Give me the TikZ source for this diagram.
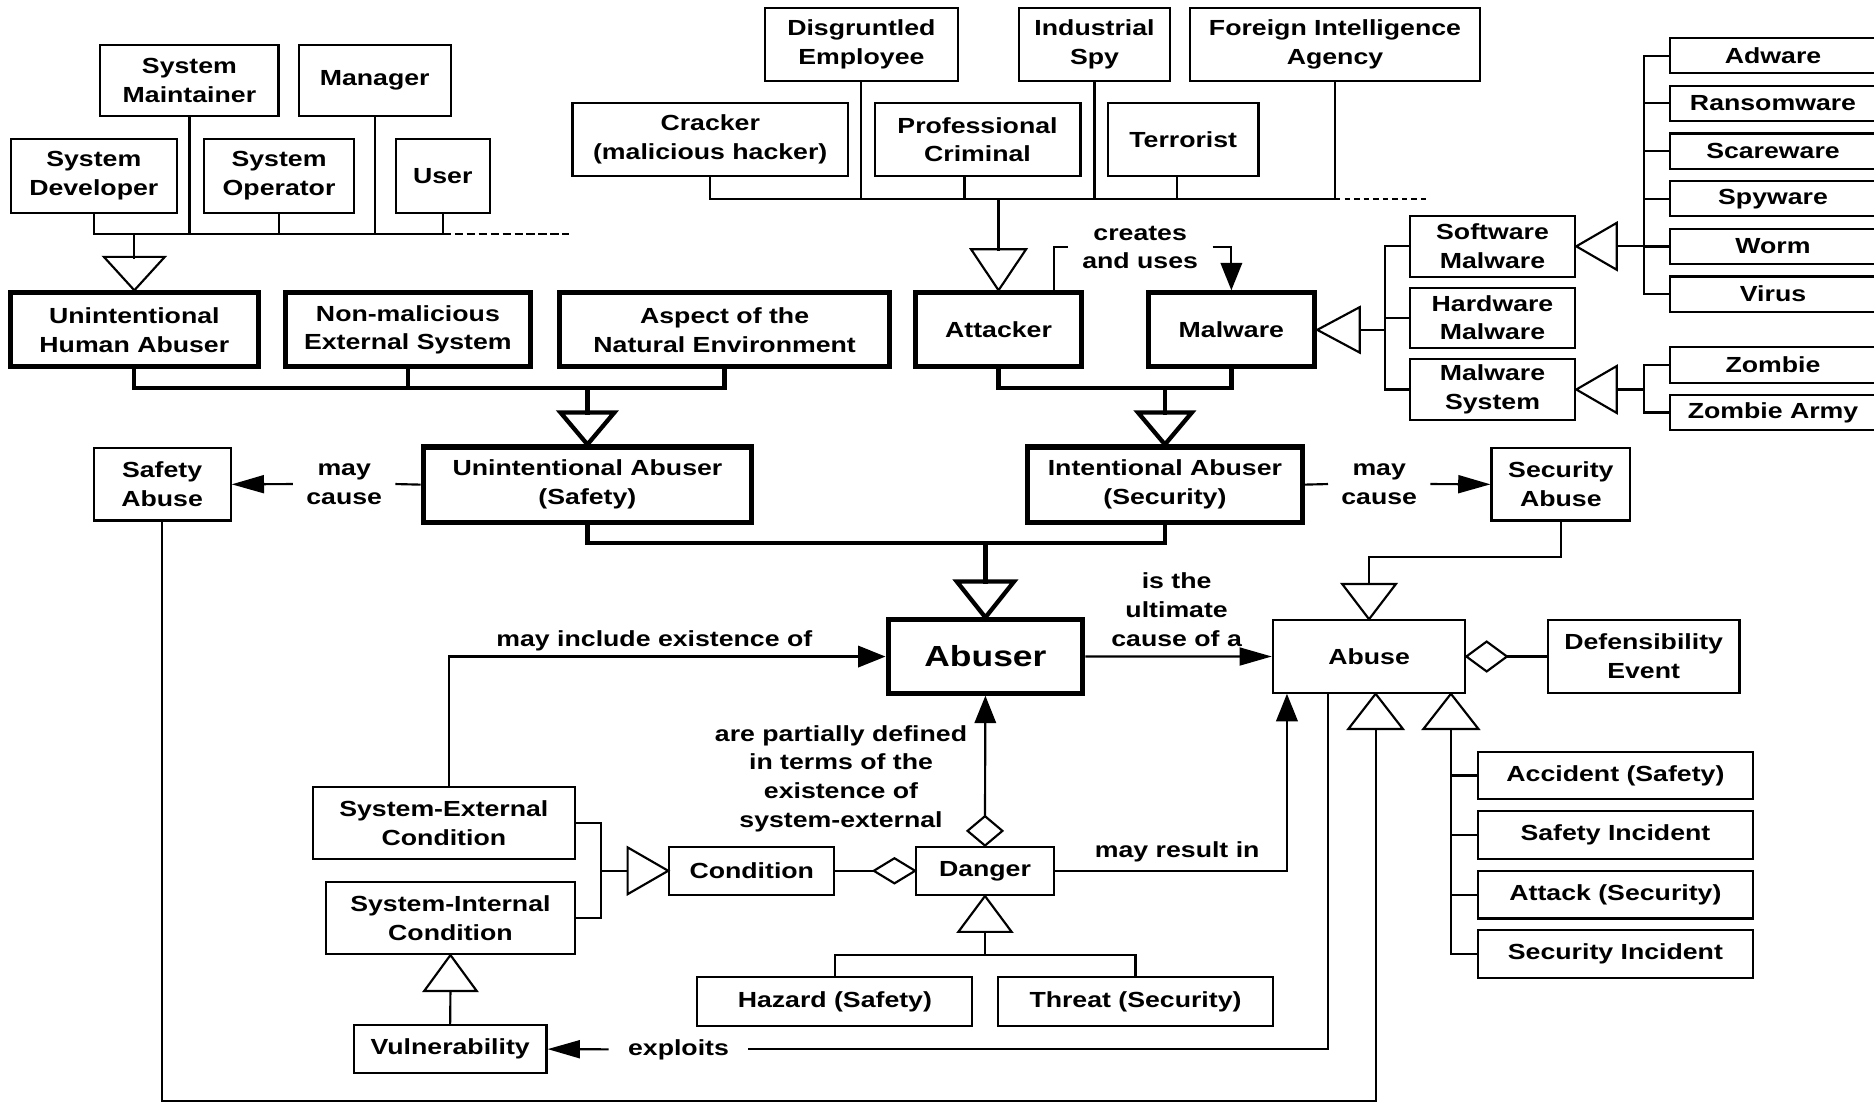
\documentclass[tikz,border=0pt]{standalone}
\usepackage{fontspec}
\newfontfamily\lblfont{Liberation Sans}[FakeStretch=1.22]
\usetikzlibrary{arrows.meta,calc}

\begin{document}
\begin{tikzpicture}[x=1pt,y=-1pt,
  txt/.style={font=\lblfont\bfseries\fontsize{18.3}{24}\selectfont, align=center, inner sep=0pt},
  box/.style 2 args={txt, draw, line width=1.8pt, minimum width=#1, minimum height=#2},
  thk/.style 2 args={box={#1}{#2}, line width=4.2pt},
  ln/.style={line width=1.8pt},
  lnt/.style={line width=3.6pt},
  varr/.style={-{Triangle[length=23pt,width=18pt]}},
  harr/.style={-{Triangle[length=27pt,width=15pt]}},
  dashline/.style={ln, dash pattern=on 7pt off 3pt},
  dotline/.style={ln, dash pattern=on 4.5pt off 3.5pt}
]
\useasboundingbox (0,0) rectangle (1568,923);

% ---------- human abusers (unintentional) ----------
\node[box={149}{59}] (sm)  at (158.5,67.5) {System\\Maintainer};
\node[box={127}{59}] (mgr) at (313.5,67.5) {Manager};
\node[box={139}{62}] (sd)  at (78.5,147) {System\\Developer};
\node[box={125}{62}] (so)  at (233.5,147) {System\\Operator};
\node[box={79}{62}]  (usr) at (370.5,147) {User};

% ---------- human attackers ----------
\node[box={161.5}{60.5}] (de)  at (720.75,37.25) {Disgruntled\\Employee};
\node[box={126.4}{60.5}] (isp) at (915.8,37.25) {Industrial\\Spy};
\node[box={242}{60.5}]   (fia) at (1117,37.25) {Foreign Intelligence\\Agency};
\node[box={230.5}{60.5}] (cr)  at (594.25,116.75) {Cracker\\(malicious hacker)};
\node[box={172.2}{60.5}] (pc)  at (817.9,116.75) {Professional\\Criminal};
\node[box={126}{60.5}]   (ter) at (990,116.75) {Terrorist};

% ---------- malware kinds ----------
\node[box={173}{29.5}] (adw) at (1483.5,46.6)  {Adware};
\node[box={173}{29.5}] (ran) at (1483.5,86.5)  {Ransomware};
\node[box={173}{29.5}] (sca) at (1483.5,126.4) {Scareware};
\node[box={173}{29.5}] (spy) at (1483.5,166.3) {Spyware};
\node[box={173}{29.5}] (wrm) at (1483.5,206.2) {Worm};
\node[box={173}{29.5}] (vir) at (1483.5,246.1) {Virus};
\node[box={173}{29.5}] (zom) at (1483.5,305.4) {Zombie};
\node[box={173}{29.5}] (zar) at (1483.5,345.2) {Zombie Army};
\node[box={138.4}{50.8}] (swm)  at (1248.8,206.1) {Software\\Malware};
\node[box={138.4}{50.3}] (hwm)  at (1248.8,265.9) {Hardware\\Malware};
\node[box={138.4}{51}]   (msys) at (1248.8,325.9) {Malware\\System};

% ---------- abuser kinds ----------
\node[thk={208}{62}]   (uha)  at (112.4,276) {Unintentional\\Human Abuser};
\node[thk={205}{62}]   (nmes) at (341.3,276) {Non-malicious\\External System};
\node[thk={276.6}{62}] (ane)  at (606.3,276) {Aspect of the\\Natural Environment};
\node[thk={139}{62}]   (att)  at (835.5,276) {Attacker};
\node[thk={139.5}{62}] (mal)  at (1030.3,276) {Malware};
\node[thk={275}{63}]   (uas)  at (491.5,405.5) {Unintentional Abuser\\(Safety)};
\node[thk={229.4}{63}] (ias)  at (974.7,405.5) {Intentional Abuser\\(Security)};
\node[thk={163}{61.3}, font=\lblfont\bfseries\fontsize{24.3}{28}\selectfont] (abuser) at (824.5,549.35) {Abuser};

% ---------- abuses ----------
\node[box={114.7}{60.5}] (sa)    at (135.65,405.25) {Safety\\Abuse};
\node[box={116}{60.5}]   (secab) at (1306,405.25) {Security\\Abuse};
\node[box={161}{60.6}]   (abuse) at (1145.5,549.3) {Abuse};
\node[box={160.5}{60.6}] (defe)  at (1375.25,549.3) {Defensibility\\Event};
\node[box={230.7}{39.8}] (acc)    at (1351.65,648.9)  {Accident (Safety)};
\node[box={230.7}{39.8}] (si)     at (1351.65,698.8)  {Safety Incident};
\node[box={230.7}{39.8}] (atk)    at (1351.65,748.55) {Attack (Security)};
\node[box={230.7}{39.8}] (secinc) at (1351.65,798.25) {Security Incident};

% ---------- conditions and dangers ----------
\node[box={218.8}{60.2}] (sec)    at (371.4,688.9) {System-External\\Condition};
\node[box={207.8}{60.2}] (sic)    at (376.9,768.1) {System-Internal\\Condition};
\node[box={138}{40.4}]   (cond)   at (629,728.6) {Condition};
\node[box={115.1}{40.4}] (danger) at (824.15,728.6) {Danger};
\node[box={230.1}{40.7}] (hz)     at (698.55,838.05) {Hazard (Safety)};
\node[box={230.6}{40.7}] (thr)    at (950.1,838.05) {Threat (Security)};
\node[box={161.3}{40.4}] (vul)    at (376.65,877.8) {Vulnerability};

% ---------- association labels ----------
\node[txt, inner xsep=11pt] (lmc1) at (288,405) {may\\cause};
\node[txt, inner xsep=11pt] (lmc2) at (1154,405) {may\\cause};
\node[txt, inner xsep=12pt] (lcu)  at (954,207) {creates\\and uses};
\node[txt] (lult) at (984.5,510) {is the\\ultimate\\cause of a};
\node[txt] (linc) at (547.5,536) {may include existence of};
\node[txt] (lpart) at (703.7,651.5) {are partially defined\\in terms of the\\existence of\\system-external};
\node[txt] (lres) at (985,712.5) {may result in};
\node[txt, inner xsep=16pt] (lexp) at (567.7,878) {exploits};

% ---------- generalization: human abusers ----------
\coordinate (ba) at (0,195.8);
\draw[ln] (sd.south) |- (usr.south |- ba) -- (usr.south);
\draw[ln] (sm.south) -- (sm.south |- ba);
\draw[ln] (so.south) -- (so.south |- ba);
\draw[ln] (mgr.south) -- (mgr.south |- ba);
\draw[dashline] (usr.south |- ba) -- ++(106,0);
\draw[ln] (uha.north |- ba) -- ++(0,21.2);
\draw[ln] (uha.north) -- ++(-25.5,-28) -- ++(51,0) -- cycle;

% ---------- generalization: attackers ----------
\coordinate (bt) at (0,166.5);
\draw[ln] (cr.south) |- (fia.south |- bt) -- (fia.south);
\draw[ln] (de.south) -- (de.south |- bt);
\draw[ln] ($(pc.south)+(-10.9,0)$) -- ($(pc.south |- bt)+(-10.9,0)$);
\draw[ln] (isp.south) -- (isp.south |- bt);
\draw[ln] ($(ter.south)+(-5,0)$) -- ($(ter.south |- bt)+(-5,0)$);
\draw[dotline] (fia.south |- bt) -- ++(77,0);
\draw[ln] (att.north |- bt) -- ++(0,43.2);
\draw[ln] (att.north) -- ++(-23,-34.3) -- ++(46,0) -- cycle;

% ---------- attacker creates and uses malware ----------
\draw[ln] ($(att.north)+(46.1,0)$) |- (lcu.west);
\draw[ln, varr] (lcu.east) -| (mal.north);

% ---------- generalization: malware ----------
\draw[ln] (mal.east) -- ++(35.5,-19) -- ++(0,38) -- cycle;
\draw[ln] ($(mal.east)+(35.5,0)$) -- ++(21.5,0) coordinate (mj);
\draw[ln] (swm.west) -| (mj |- msys.west) -- (msys.west);
\draw[ln] (hwm.west) -- (hwm.west -| mj);

\draw[ln] (swm.east) -- ++(33.8,-19.6) -- ++(0,39.2) -- cycle;
\draw[ln] ($(swm.east)+(33.8,0)$) -- ++(22.7,0) coordinate (sj);
\draw[ln] (adw.west) -| (sj |- vir.west) -- (vir.west);
\draw[ln] (ran.west) -- (ran.west -| sj);
\draw[ln] (sca.west) -- (sca.west -| sj);
\draw[ln] (spy.west) -- (spy.west -| sj);
\draw[ln] (wrm.west) -- (wrm.west -| sj);

\draw[ln] (msys.east) -- ++(33.8,-19.6) -- ++(0,39.2) -- cycle;
\draw[ln] ($(msys.east)+(33.8,0)$) -- ++(22.7,0) coordinate (zj);
\draw[ln] (zom.west) -| (zj |- zar.west) -- (zar.west);

% ---------- generalization: unintentional and intentional abusers ----------
\coordinate (bb) at (0,324.7);
\draw[lnt] (uha.south) |- (ane.south |- bb) -- (ane.south);
\draw[lnt] (nmes.south) -- (nmes.south |- bb);
\draw[lnt] (uas.north |- bb) -- ++(0,22.3);
\draw[lnt] (uas.north) -- ++(-22.5,-26.7) -- ++(45,0) -- cycle;

\draw[lnt] (att.south) |- (mal.south |- bb) -- (mal.south);
\draw[lnt] (ias.north |- bb) -- ++(0,22.3);
\draw[lnt] (ias.north) -- ++(-22.5,-26.7) -- ++(45,0) -- cycle;

% ---------- generalization: abuser ----------
\coordinate (bc) at (0,454.6);
\draw[lnt] (uas.south) |- (ias.south |- bc) -- (ias.south);
\draw[lnt] (abuser.north |- bc) -- ++(0,34);
\draw[lnt] (abuser.north) -- ++(-24,-30.1) -- ++(48,0) -- cycle;

% ---------- may cause ----------
\draw[ln] (uas.west) -- (lmc1.east);
\draw[ln, harr] (lmc1.west) -- (sa.east);
\draw[ln] (ias.east) -- (lmc2.west);
\draw[ln, harr] (lmc2.east) -- (secab.west);

% ---------- abuser causes abuse ----------
\draw[ln, harr] (abuser.east) -- (abuse.west);
\draw[ln] (abuse.east) -- ++(17,-12.5) -- ++(17,12.5) -- ++(-17,12.5) -- cycle;
\draw[ln] ($(abuse.east)+(34,0)$) -- (defe.west);

% ---------- security abuse is an abuse ----------
\draw[ln] (abuse.north) -- ++(-22.5,-29.5) -- ++(45,0) -- cycle;
\draw[ln] (secab.south) -- ++(0,29.7) -| ($(abuse.north)+(0,-29.5)$);

% ---------- safety abuse is an abuse ----------
\coordinate (bot) at (0,921.5);
\coordinate (t1) at ($(abuse.south)+(5.5,0)$);
\draw[ln] (t1) -- ++(-22.8,29.4) -- ++(45.6,0) -- cycle;
\draw[ln] (sa.south) -- (sa.south |- bot) -| ($(t1)+(0,29.4)$);

% ---------- kinds of abuse ----------
\coordinate (t2) at ($(abuse.south)+(68.5,0)$);
\draw[ln] (t2) -- ++(-23,29.4) -- ++(46,0) -- cycle;
\draw[ln] ($(t2)+(0,29.4)$) |- (secinc.west);
\draw[ln] (acc.west) -- (acc.west -| t2);
\draw[ln] (si.west) -- (si.west -| t2);
\draw[ln] (atk.west) -- (atk.west -| t2);

% ---------- conditions ----------
\coordinate (cj) at (503,728.6);
\draw[ln] (sec.east) -| (cj) |- (sic.east);
\draw[ln] (cj) -- ($(cond.west)+(-34,0)$);
\draw[ln] (cond.west) -- ++(-34,-19.6) -- ++(0,39.2) -- cycle;
\draw[ln, varr] ($(sec.north)+(4.6,0)$) |- (abuser.west);

% ---------- danger aggregates condition ----------
\draw[ln] (danger.west) -- ++(-17.3,-10.5) -- ++(-17.3,10.5) -- ++(17.3,10.5) -- cycle;
\draw[ln] ($(danger.west)+(-34.6,0)$) -- (cond.east);

% ---------- abuser defined by danger ----------
\draw[ln] (danger.north) -- ++(-14.6,-12.3) -- ++(14.6,-12.3) -- ++(14.6,12.3) -- cycle;
\draw[ln, varr] ($(danger.north)+(0,-24.6)$) -- (abuser.south);

% ---------- danger may result in abuse ----------
\draw[ln, varr] (danger.east) -| ($(abuse.south)+(-68.7,0)$);

% ---------- kinds of danger ----------
\draw[ln] (danger.south) -- ++(-22.3,30) -- ++(44.6,0) -- cycle;
\draw[ln] ($(danger.south)+(0,30)$) -- ++(0,19.5) coordinate (dj);
\draw[ln] (hz.north) -- (hz.north |- dj) -| (thr.north);

% ---------- vulnerability ----------
\draw[ln] (sic.south) -- ++(-22,30.1) -- ++(44,0) -- cycle;
\draw[ln] ($(sic.south)+(0,30.1)$) -- (vul.north);
\draw[ln] ($(abuse.south)+(-34.7,0)$) |- (lexp.east);
\draw[ln, harr] (lexp.west) -- (vul.east);

\end{tikzpicture}
\end{document}
